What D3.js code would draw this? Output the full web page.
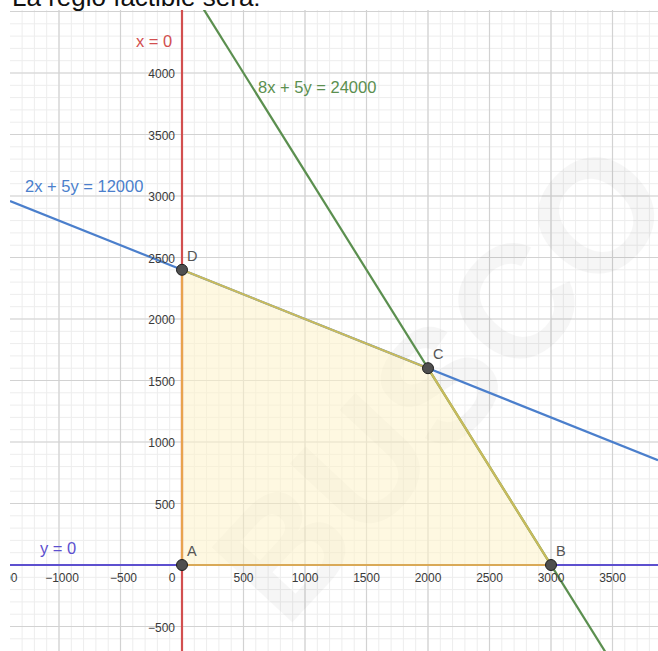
<!DOCTYPE html>
<html>
<head>
<meta charset="utf-8">
<script src="https://cdn.jsdelivr.net/npm/d3@7"></script>
<style>
  body { margin: 0; background: #fff; }
  svg { display: block; font-family: "Liberation Sans", Arial, sans-serif; }
</style>
</head>
<body>
<div id="chart"></div>
<script>
// tick values along each axis
var xTicks = [-1500, -1000, -500, 0, 500, 1000, 1500, 2000, 2500, 3000, 3500];
var yTicks = [-500, 500, 1000, 1500, 2000, 2500, 3000, 3500, 4000];

// constraint lines a*x + b*y = c
var lineNames = ["x = 0", "y = 0", "2x + 5y = 12000", "8x + 5y = 24000"];
var lineA = [1, 0, 2, 8];
var lineB = [0, 1, 5, 5];
var lineC = [0, 0, 12000, 24000];

// vertices of the feasible region
var vertexNames = ["A", "B", "C", "D"];
var vertexX = [0, 3000, 2000, 0];
var vertexY = [0, 0, 1600, 2400];

var svgWidth = 658;
var svgHeight = 651;

// plot box (the grid) inside the svg
var box = { left: 10, top: 10, right: 658, bottom: 651 };

// pixels per unit, same on both axes
var k = 0.123;
var ox = 182, oy = 565;

var xScale = d3.scaleLinear()
  .domain([0, 1000])
  .range([ox, ox + 1000 * k]);
var yScale = d3.scaleLinear()
  .domain([0, 1000])
  .range([oy, oy - 1000 * k]);

var xMin = xScale.invert(box.left), xMax = xScale.invert(box.right);
var yMin = yScale.invert(box.bottom), yMax = yScale.invert(box.top);

var svg = d3.select("#chart")
  .append("svg")
  .attr("width", svgWidth)
  .attr("height", svgHeight);

svg.append("defs").append("clipPath").attr("id", "plot")
  .append("rect")
  .attr("x", box.left).attr("y", box.top)
  .attr("width", box.right - box.left).attr("height", box.bottom - box.top);

// title, mostly cut off at the top
svg.append("text")
  .attr("x", 12)
  .attr("y", 6)
  .attr("font-size", 26)
  .attr("fill", "#111")
  .text("La regió factible serà:");

var plot = svg.append("g").attr("clip-path", "url(#plot)");

// minor grid every 100, major every 500
var minorX = d3.range(Math.ceil(xMin / 100) * 100, xMax, 100);
var minorY = d3.range(Math.ceil(yMin / 100) * 100, yMax, 100);
var majorX = minorX.filter(d => d % 500 === 0);
var majorY = minorY.filter(d => d % 500 === 0);

plot.selectAll("line.minx").data(minorX).enter().append("line")
  .attr("x1", d => xScale(d)).attr("x2", d => xScale(d))
  .attr("y1", box.top).attr("y2", box.bottom)
  .attr("stroke", "#ededed").attr("stroke-width", 1);
plot.selectAll("line.miny").data(minorY).enter().append("line")
  .attr("y1", d => yScale(d)).attr("y2", d => yScale(d))
  .attr("x1", box.left).attr("x2", box.right)
  .attr("stroke", "#ededed").attr("stroke-width", 1);
plot.selectAll("line.majx").data(majorX).enter().append("line")
  .attr("x1", d => xScale(d)).attr("x2", d => xScale(d))
  .attr("y1", box.top).attr("y2", box.bottom)
  .attr("stroke", "#d2d2d2").attr("stroke-width", 1.2);
plot.selectAll("line.majy").data(majorY).enter().append("line")
  .attr("y1", d => yScale(d)).attr("y2", d => yScale(d))
  .attr("x1", box.left).attr("x2", box.right)
  .attr("stroke", "#d2d2d2").attr("stroke-width", 1.2);

// faint watermark
plot.append("text")
  .attr("transform", "translate(285,630) rotate(-47)")
  .attr("font-size", 160)
  .attr("font-weight", "bold")
  .attr("fill", "#000")
  .attr("opacity", 0.03)
  .text("BUSCO");

// feasible region fill
var poly = vertexX.map((d, i) => [xScale(d), yScale(vertexY[i])]);
plot.append("polygon")
  .attr("points", poly.map(p => p.join(",")).join(" "))
  .attr("fill", "#fdf3c8")
  .attr("fill-opacity", 0.55)
  .attr("stroke", "none");

// constraint lines
var lineColors = ["#d24f4f", "#5d50cf", "#4b7fcc", "#5b8f4f"];
lineNames.forEach(function(name, i) {
  var a = lineA[i], b = lineB[i], c = lineC[i];
  var p1, p2;
  if (b === 0) {
    p1 = [c / a, yMin]; p2 = [c / a, yMax];
  } else {
    p1 = [xMin, (c - a * xMin) / b]; p2 = [xMax, (c - a * xMax) / b];
  }
  plot.append("line")
    .attr("x1", xScale(p1[0])).attr("y1", yScale(p1[1]))
    .attr("x2", xScale(p2[0])).attr("y2", yScale(p2[1]))
    .attr("stroke", lineColors[i])
    .attr("stroke-width", 2.2);
});

// region edges on top of the lines
var edgeColors = ["#d9a957", "#c9bb5c", "#c9bb5c", "#e8a34e"];
poly.forEach(function(p, i) {
  var q = poly[(i + 1) % poly.length];
  plot.append("line")
    .attr("x1", p[0]).attr("y1", p[1])
    .attr("x2", q[0]).attr("y2", q[1])
    .attr("stroke", edgeColors[i])
    .attr("stroke-width", 2.2);
});

// tick labels (clipped to the grid like the reference)
plot.selectAll("text.xt").data(xTicks).enter().append("text")
  .attr("x", d => d === 0 ? xScale(d) - 10 : (d < 0 ? xScale(d) + 3 : xScale(d)))
  .attr("y", oy + 17)
  .attr("text-anchor", "middle")
  .attr("font-size", 12)
  .attr("fill", "#3a3a3a")
  .text(d => d < 0 ? "\u2212" + Math.abs(d) : d);

plot.selectAll("text.yt").data(yTicks).enter().append("text")
  .attr("x", ox - 7)
  .attr("y", d => yScale(d) + 5)
  .attr("text-anchor", "end")
  .attr("font-size", 12)
  .attr("fill", "#3a3a3a")
  .text(d => d < 0 ? "\u2212" + Math.abs(d) : d);

// line labels
var labelPos = [[136, 47], [40, 554], [25, 192], [258, 93]];
lineNames.forEach(function(name, i) {
  svg.append("text")
    .attr("x", labelPos[i][0])
    .attr("y", labelPos[i][1])
    .attr("font-size", 16.5)
    .attr("fill", lineColors[i])
    .text(name);
});

// vertices
vertexNames.forEach(function(name, i) {
  var cx = xScale(vertexX[i]), cy = yScale(vertexY[i]);
  svg.append("circle")
    .attr("cx", cx).attr("cy", cy)
    .attr("r", 5.5)
    .attr("fill", "#4f4f4f")
    .attr("stroke", "#1f1f1f")
    .attr("stroke-width", 1);
  svg.append("text")
    .attr("x", cx + 5)
    .attr("y", cy - 9)
    .attr("font-size", 14.5)
    .attr("fill", "#555")
    .text(name);
});
</script>
</body>
</html>
